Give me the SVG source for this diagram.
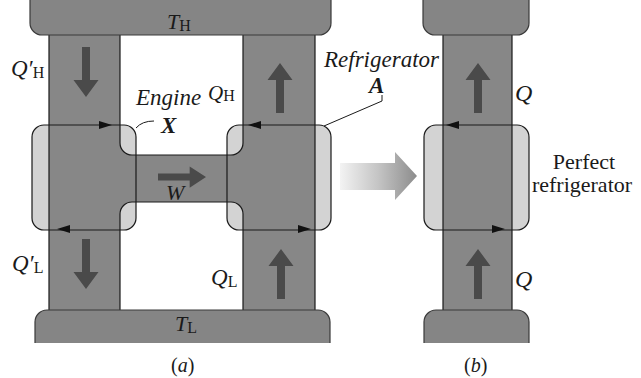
<svg xmlns="http://www.w3.org/2000/svg" xmlns:xlink="http://www.w3.org/1999/xlink" width="641" height="378" viewBox="0 0 641 378">
<style>
.flow{fill:#878787}
.res{fill:#858585}
.box{fill:#d3d3d3}
.ol{fill:none;stroke:#1a1a1a;stroke-width:1.2}
.rol{fill:none;stroke:#3a3a3a;stroke-width:1.2}
.arr{fill:#4a4a4a}
.tri{fill:#111}
text{font-family:"Liberation Serif","Times New Roman",serif;fill:#1a1a1a}
.it{font-style:italic}
.bi{font-style:italic;font-weight:bold}
.sub{font-style:normal;font-size:16px}
.lead{fill:none;stroke:#1a1a1a;stroke-width:1}
</style>
<defs>
<path id="fa" d="M0,0 L12.5,17 L4,17 L4,50 L-4,50 L-4,17 L-12.5,17 Z"/>
<path id="ba" d="M0,0 L-13,-4 L-13,4 Z"/>
<linearGradient id="g" x1="340" y1="0" x2="417" y2="0" gradientUnits="userSpaceOnUse">
<stop offset="0" stop-color="#f3f3f3"/>
<stop offset="0.5" stop-color="#c4c4c4"/>
<stop offset="1" stop-color="#8c8c8c"/>
</linearGradient>
</defs>
<rect width="641" height="378" fill="#ffffff"/>

<!-- panel (a) -->
<g id="engine-X">
<rect class="box" x="32" y="125" width="104" height="105" rx="12"/>
</g>
<g id="refrigerator-A">
<rect class="box" x="227" y="125" width="104" height="105" rx="12"/>
</g>
<g id="flow-a">
<path class="flow" fill-rule="evenodd" d="M49,35 H315 V310 H49 Z M120,35 H243 V143 A12,12 0 0 1 231,155 H132 A12,12 0 0 1 120,143 Z M120,310 V214 A12,12 0 0 1 132,202 H231 A12,12 0 0 1 243,214 V310 Z"/>
<path class="ol" d="M49,35 V310 M315,35 V310"/>
<path class="ol" d="M120,35 V143 A12,12 0 0 0 132,155 H231 A12,12 0 0 0 243,143 V35"/>
<path class="ol" d="M120,310 V214 A12,12 0 0 1 132,202 H231 A12,12 0 0 1 243,214 V310"/>
</g>
<g id="reservoir-TH">
<path class="res" d="M30,-12 H331 V23 A12,12 0 0 1 319,35 H42 A12,12 0 0 1 30,23 Z"/>
<path class="rol" d="M30,-12 V23 A12,12 0 0 0 42,35 H319 A12,12 0 0 0 331,23 V-12"/>
<text class="it" x="167" y="29" font-size="22">T<tspan class="sub" dy="2">H</tspan></text>
</g>
<g id="reservoir-TL">
<path class="res" d="M35,343 V322 A12,12 0 0 1 47,310 H318 A12,12 0 0 1 330,322 V343 Z"/>
<path class="rol" d="M35,343 V322 A12,12 0 0 1 47,310 H318 A12,12 0 0 1 330,322 V343"/>
<text class="it" x="175" y="331" font-size="22">T<tspan class="sub" dy="2">L</tspan></text>
</g>
<g id="engine-X-outline">
<rect class="ol" x="32" y="125" width="104" height="105" rx="12"/>
<text class="it" x="136" y="105" font-size="23">Engine</text>
<text class="bi" x="161" y="133" font-size="23">X</text>
<path class="lead" d="M136,128 Q142,121 154,121"/>
</g>
<g id="refrigerator-A-outline">
<rect class="ol" x="227" y="125" width="104" height="105" rx="12"/>
<text class="it" x="324" y="67" font-size="23">Refrigerator</text>
<text class="bi" x="369" y="93" font-size="23">A</text>
<path class="lead" d="M382,95 V101 L324,126"/>
</g>

<!-- panel (b) -->
<g id="perfect-refrigerator">
<rect class="box" x="424" y="125" width="105" height="105" rx="12"/>
<rect class="flow" x="443" y="35" width="69" height="275"/>
<path class="ol" d="M443,35 V310 M512,35 V310"/>
<rect class="ol" x="424" y="125" width="105" height="105" rx="12"/>
<text x="584" y="169" font-size="22" text-anchor="middle">Perfect</text>
<text x="582" y="192" font-size="22" text-anchor="middle">refrigerator</text>
</g>
<g id="reservoir-b-top">
<path class="res" d="M423,-12 H529 V23 A12,12 0 0 1 517,35 H435 A12,12 0 0 1 423,23 Z"/>
<path class="rol" d="M423,-12 V23 A12,12 0 0 0 435,35 H517 A12,12 0 0 0 529,23 V-12"/>
</g>
<g id="reservoir-b-bottom">
<path class="res" d="M424,343 V322 A12,12 0 0 1 436,310 H517 A12,12 0 0 1 529,322 V343 Z"/>
<path class="rol" d="M424,343 V322 A12,12 0 0 1 436,310 H517 A12,12 0 0 1 529,322 V343"/>
</g>

<g id="connectors">
<use xlink:href="#fa" class="arr" transform="translate(86,97) rotate(180)"/>
<use xlink:href="#fa" class="arr" transform="translate(280,63)"/>
<use xlink:href="#fa" class="arr" transform="translate(86,289) rotate(180)"/>
<use xlink:href="#fa" class="arr" transform="translate(281,249)"/>
<use xlink:href="#fa" class="arr" transform="translate(206,177) rotate(90) scale(0.85,0.96)"/>
<use xlink:href="#fa" class="arr" transform="translate(478,63)"/>
<use xlink:href="#fa" class="arr" transform="translate(478,249)"/>
<use xlink:href="#ba" class="tri" transform="translate(112,125)"/>
<use xlink:href="#ba" class="tri" transform="translate(57,229) rotate(180)"/>
<use xlink:href="#ba" class="tri" transform="translate(248,125) rotate(180)"/>
<use xlink:href="#ba" class="tri" transform="translate(311,229)"/>
<use xlink:href="#ba" class="tri" transform="translate(446,125) rotate(180)"/>
<use xlink:href="#ba" class="tri" transform="translate(505,229)"/>
<polygon points="340,163 395,163 395,152 417,176 395,200 395,190 340,190" fill="url(#g)"/>
</g>

<g id="labels">
<text class="it" x="11" y="76" font-size="23">Q′<tspan class="sub" dy="2">H</tspan></text>
<text class="it" x="208" y="100" font-size="21">Q<tspan class="sub" dy="1">H</tspan></text>
<text class="it" x="166" y="200" font-size="22">W</text>
<text class="it" x="12" y="271" font-size="23">Q′<tspan class="sub" dy="2">L</tspan></text>
<text class="it" x="211" y="285" font-size="23">Q<tspan class="sub" dy="2">L</tspan></text>
<text class="it" x="515" y="101" font-size="24">Q</text>
<text class="it" x="515" y="287" font-size="24">Q</text>
<text x="171" y="372" font-size="20">(<tspan class="it">a</tspan>)</text>
<text x="464" y="372" font-size="20">(<tspan class="it">b</tspan>)</text>
</g>
</svg>
